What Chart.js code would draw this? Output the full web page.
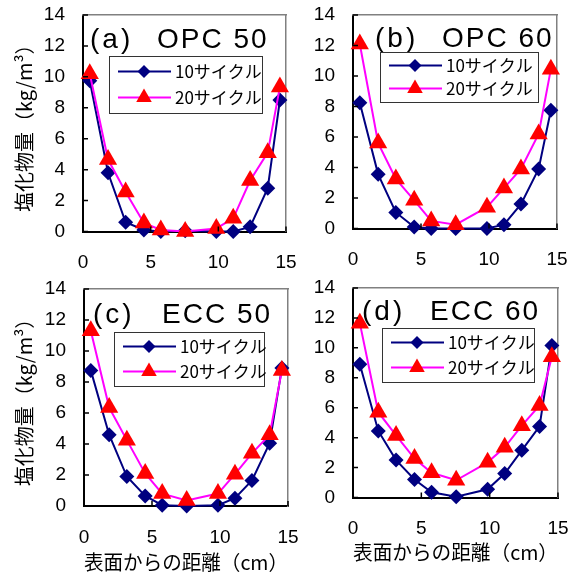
<!DOCTYPE html>
<html lang="ja">
<head>
<meta charset="utf-8">
<title>塩化物量分布</title>
<script src="https://cdn.jsdelivr.net/npm/chart.js@4.4.0/dist/chart.umd.min.js"></script>
<style>
  html, body { margin: 0; padding: 0; background: #ffffff; }
  body { width: 579px; height: 577px; position: relative; overflow: hidden; }
  canvas { position: absolute; }
</style>
</head>
<body>
<canvas id="pa"></canvas>
<canvas id="pb"></canvas>
<canvas id="pc"></canvas>
<canvas id="pd"></canvas>
<script>
// distance from surface (cm), same slices for every specimen
const xPos = [0.5, 1.85, 3.15, 4.5, 5.75, 7.55, 9.85, 11.1, 12.35, 13.65, 14.55];

// chloride content (kg/m3)
const opc50_10 = [9.75, 3.8, 0.6, 0.1, 0.0, 0.05, 0.0, 0.0, 0.3, 2.8, 8.5];
const opc50_20 = [10.2, 4.65, 2.55, 0.55, 0.1, 0.0, 0.2, 0.85, 3.3, 5.1, 9.35];
const opc60_10 = [8.25, 3.55, 1.05, 0.1, 0.0, 0.0, 0.0, 0.25, 1.6, 3.9, 7.75];
const opc60_20 = [12.1, 5.6, 3.25, 1.85, 0.5, 0.25, 1.4, 2.65, 3.9, 6.2, 10.45];
const ecc50_10 = [8.75, 4.6, 1.9, 0.65, 0.05, 0.0, 0.05, 0.5, 1.65, 4.05, 8.9];
const ecc50_20 = [11.3, 6.35, 4.25, 2.1, 0.8, 0.35, 0.8, 2.05, 3.4, 4.6, 8.75];
const ecc60_10 = [8.9, 4.45, 2.5, 1.2, 0.35, 0.05, 0.55, 1.6, 3.15, 4.75, 10.15];
const ecc60_20 = [11.65, 5.7, 4.15, 2.6, 1.65, 1.15, 2.35, 3.35, 4.8, 6.15, 9.4];

const cycleLabels = ['10サイクル', '20サイクル'];
const panelTags = ['(a)', '(b)', '(c)', '(d)'];
const panelNames = ['OPC 50', 'OPC 60', 'ECC 50', 'ECC 60'];
const xTickVals = [0, 5, 10, 15];
const yTickVals = [0, 2, 4, 6, 8, 10, 12, 14];
const yTitle = '塩化物量（kg/m³）';
const xTitle = '表面からの距離（cm）';

const jp = "'Noto Sans CJK JP', sans-serif";
const lat = "'Liberation Sans', Arial, sans-serif";

function pts(vals) {
  return xPos.map((x, i) => ({ x: x, y: vals[i] }));
}

function marker(ctx, style, x, y, r) {
  ctx.beginPath();
  if (style === 'rectRot') {
    ctx.moveTo(x - r, y); ctx.lineTo(x, y - r); ctx.lineTo(x + r, y); ctx.lineTo(x, y + r);
  } else {
    ctx.moveTo(x, y - r); ctx.lineTo(x + r * 0.866, y + r / 2); ctx.lineTo(x - r * 0.866, y + r / 2);
  }
  ctx.closePath();
  ctx.fill();
}

// inner ticks, panel title and boxed legend
const deco = {
  id: 'deco',
  afterDraw(chart, args, o) {
    const ctx = chart.ctx, a = chart.chartArea, sx = chart.scales.x, sy = chart.scales.y;
    ctx.save();
    ctx.strokeStyle = '#000';
    ctx.lineWidth = 1.5;
    ctx.beginPath();
    xTickVals.forEach(v => {
      const px = sx.getPixelForValue(v);
      ctx.moveTo(px, a.bottom); ctx.lineTo(px, a.bottom - 5);
    });
    yTickVals.forEach(v => {
      const py = sy.getPixelForValue(v);
      ctx.moveTo(a.left, py); ctx.lineTo(a.left + 5, py);
    });
    ctx.stroke();

    ctx.fillStyle = '#000';
    ctx.textBaseline = 'alphabetic';
    ctx.font = '28px ' + lat;
    ctx.letterSpacing = '3px';
    ctx.fillText(o.tag, a.left + o.tagX, a.top + o.base);
    ctx.letterSpacing = '2px';
    ctx.fillText(o.name, a.left + o.nameX, a.top + o.base);
    ctx.letterSpacing = '0px';

    const x0 = o.lg[0] - o.off[0], y0 = o.lg[1] - o.off[1], lw = o.lg[2], lh = o.lg[3];
    ctx.fillStyle = '#fff';
    ctx.fillRect(x0, y0, lw, lh);
    ctx.strokeStyle = '#333';
    ctx.lineWidth = 1;
    ctx.strokeRect(x0 + 0.5, y0 + 0.5, lw, lh);
    chart.data.datasets.forEach((ds, i) => {
      const ry = y0 + lh * (i ? 0.73 : 0.27);
      ctx.strokeStyle = ds.borderColor;
      ctx.lineWidth = 2;
      ctx.beginPath();
      ctx.moveTo(x0 + 9, ry); ctx.lineTo(x0 + 62, ry);
      ctx.stroke();
      ctx.fillStyle = ds.pointBackgroundColor;
      marker(ctx, ds.pointStyle, x0 + 35, ry, i ? 9 : 6.5);
      ctx.fillStyle = '#000';
      ctx.font = '17px ' + jp;
      ctx.textBaseline = 'middle';
      ctx.fillText(ds.label, x0 + 66, ry);
    });
    ctx.restore();
  }
};

const panels = [
  { id: 'pa', box: [0, 0, 300, 282], area: [83, 15, 286, 231.5], s10: opc50_10, s20: opc50_20,
    tagX: 7, nameX: 74, base: 33, lg: [109, 56, 153, 57], yt: true, xt: false, xtPad: 0 },
  { id: 'pb', box: [300, 0, 279, 282], area: [353, 15, 557, 228.5], s10: opc60_10, s20: opc60_20,
    tagX: 22, nameX: 89, base: 32, lg: [380, 52, 158, 50], yt: false, xt: false, xtPad: 0 },
  { id: 'pc', box: [0, 265, 300, 312], area: [84, 289, 288, 506], s10: ecc50_10, s20: ecc50_20,
    tagX: 9, nameX: 78, base: 34, lg: [114, 332, 150, 54], yt: true, xt: true, xtPad: 3 },
  { id: 'pd', box: [300, 265, 279, 312], area: [353, 288, 558, 497.5], s10: ecc60_10, s20: ecc60_20,
    tagX: 9, nameX: 77, base: 32, lg: [382, 328, 152, 54], yt: false, xt: true, xtPad: 13 }
];

// invisible tick marks give the label gap without adding to the label overflow
const hiddenTicks = (len) => ({ display: true, drawOnChartArea: false, drawTicks: true, tickLength: len, color: 'rgba(0,0,0,0)' });

panels.forEach((p, k) => {
  const [cx, cy, cw, ch] = p.box;
  const cv = document.getElementById(p.id);
  cv.width = cw; cv.height = ch;
  cv.style.left = cx + 'px'; cv.style.top = cy + 'px';
  const L = p.area[0] - cx, T = p.area[1] - cy, R = p.area[2] - cx, B = p.area[3] - cy;

  new Chart(cv, {
    type: 'scatter',
    data: {
      datasets: [{
        label: cycleLabels[0],
        data: pts(p.s10),
        showLine: true,
        borderColor: '#000080',
        backgroundColor: '#000080',
        pointBackgroundColor: '#000080',
        pointBorderColor: '#000080',
        pointBorderWidth: 0,
        pointStyle: 'rectRot',
        pointRadius: 7.5,
        borderWidth: 2,
        clip: false,
        order: 1
      }, {
        label: cycleLabels[1],
        data: pts(p.s20),
        showLine: true,
        borderColor: '#FF00FF',
        backgroundColor: '#FF0000',
        pointBackgroundColor: '#FF0000',
        pointBorderColor: '#FF0000',
        pointBorderWidth: 0,
        pointStyle: 'triangle',
        pointRadius: 10.5,
        borderWidth: 2,
        clip: false,
        order: 0
      }]
    },
    options: {
      responsive: false,
      animation: false,
      events: [],
      layout: { autoPadding: false, padding: { left: 0, top: T, right: cw - R, bottom: 0 } },
      plugins: {
        legend: { display: false },
        tooltip: { enabled: false },
        deco: { tag: panelTags[k], name: panelNames[k], tagX: p.tagX, nameX: p.nameX, base: p.base,
                lg: p.lg, off: [cx, cy] }
      },
      scales: {
        x: {
          type: 'linear', position: 'bottom', min: 0, max: 15,
          ticks: { stepSize: 5, padding: 0, color: '#000', font: { family: lat, size: 19 } },
          grid: hiddenTicks(20),
          border: { display: true, color: '#000', width: 2 },
          title: { display: p.xt, text: xTitle, color: '#000', font: { family: jp, size: 20 },
                   padding: { top: 0, bottom: p.xtPad } },
          afterFit(s) { s.height = ch - B; }
        },
        y: {
          type: 'linear', position: 'left', min: 0, max: 14,
          ticks: { stepSize: 2, padding: 0, color: '#000', font: { family: lat, size: 19 } },
          grid: hiddenTicks(18),
          border: { display: true, color: '#000', width: 2 },
          title: { display: p.yt, text: yTitle, color: '#000', font: { family: jp, size: 20 },
                   padding: { top: 12, bottom: 0 } },
          afterFit(s) { s.width = L; }
        },
        x2: {
          type: 'linear', position: 'top', min: 0, max: 15,
          ticks: { display: false },
          grid: { display: false, drawTicks: false },
          border: { display: true, color: '#808080', width: 1.5 },
          afterFit(s) { s.height = 0; }
        },
        y2: {
          type: 'linear', position: 'right', min: 0, max: 14,
          ticks: { display: false },
          grid: { display: false, drawTicks: false },
          border: { display: true, color: '#808080', width: 1.5 },
          afterFit(s) { s.width = 0; }
        }
      }
    },
    plugins: [deco]
  });
});
</script>
</body>
</html>
